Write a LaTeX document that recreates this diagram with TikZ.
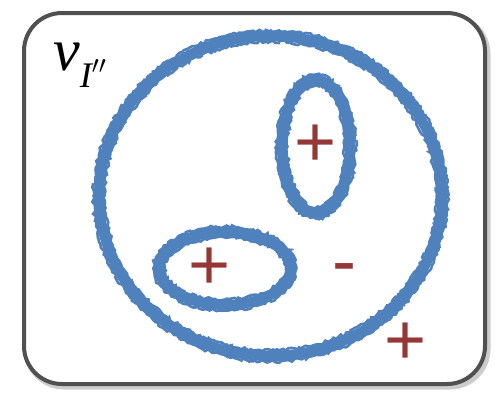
\RequirePackage{fix-cm}
\documentclass[tikz,border=0pt]{standalone}
\usepackage{xcolor}
\usepackage{fontspec}
\usepackage{tikz}
\usetikzlibrary{shapes.geometric, decorations.pathmorphing, positioning}
\definecolor{sketchblue}{HTML}{4F81BD}
\definecolor{signred}{HTML}{953735}
\definecolor{framegray}{HTML}{505050}
\newfontfamily\signfont{Liberation Sans}
\newfontfamily\labelfont{Liberation Serif}

\begin{document}
\begin{tikzpicture}[x=1pt, y=-1pt,
  frame/.style={rectangle, rounded corners=38pt, draw=framegray, line width=4pt,
                fill=white, inner sep=0pt, minimum width=461pt, minimum height=371pt},
  region/.style={ellipse, draw=sketchblue, line width=10pt, inner sep=0pt},
  rough/.style={draw=sketchblue, line width=2.6pt, decorate,
                decoration={random steps, segment length=2.5pt, amplitude=1.4pt}},
  sign/.style={font=\signfont\fontsize{72}{72}\selectfont, text=signred, inner sep=0pt},
]
\useasboundingbox (0,0) rectangle (495,392);

% shadow, then the frame
\draw[rounded corners=38pt, draw=black!20, line width=5pt] (26,16) rectangle (488,387);
\node[frame] (frame) at (254.5,198.5) {};

\node[anchor=base west, inner sep=0pt, font=\labelfont\itshape\fontsize{60}{60}\selectfont] (label) at (53,70)
  {v\raisebox{-17pt}{\fontsize{36}{36}\selectfont I$\mathsurround=0pt^{\prime\prime}$}};

% regions
\node[region, minimum width=343pt, minimum height=320pt] (outer) at (270.5,196) {};
\node[region, minimum width=68pt, minimum height=133pt] (upper) at (316,146.5) {};
\node[region, minimum width=132pt, minimum height=73pt] (lower) at (225,268.5) {};

% ragged edges
\foreach \n/\rx/\ry in {outer/171.5/160, upper/34/66.5, lower/66/36.5}
  \foreach \d in {-5.5,5.5}
    \draw[rough] (\n.center) ellipse [x radius=\rx+\d, y radius=\ry+\d];

% signs
\node[sign] (plusupper) at (316,146) {+};
\node[sign] (pluslower) at (210,269) {+};
\node[sign] (plusout) at (406,344) {+};
\node[sign] (minus) at (344,275) {-};
\end{tikzpicture}
\end{document}
